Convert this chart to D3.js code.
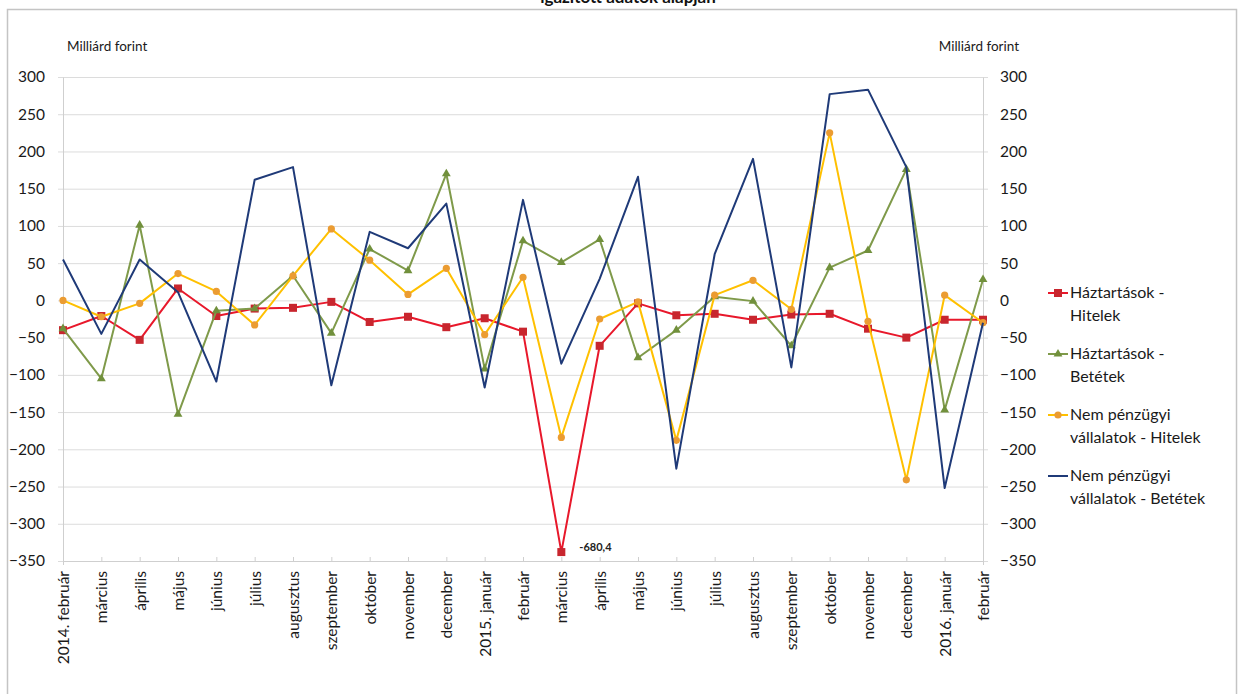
<!DOCTYPE html>
<html>
<head>
<meta charset="utf-8">
<script src="https://cdn.jsdelivr.net/npm/d3@7"></script>
<style>
  body { margin: 0; background: #fff; }
  svg { display: block; font-family: Lato, "Open Sans", sans-serif; }
</style>
</head>
<body>
<svg id="chart" width="1242" height="694"></svg>
<script>
// months on the x axis
var months = ["2014. február", "március", "április", "május", "június", "július", "augusztus",
  "szeptember", "október", "november", "december", "2015. január", "február", "március",
  "április", "május", "június", "július", "augusztus", "szeptember", "október", "november",
  "december", "2016. január", "február"];

// series values (milliárd forint)
var hhLoans = [-40, -21, -53, 16, -21, -11, -10, -2, -29, -22, -36, -24, -42, -338, -61, -4,
  -20, -18, -26, -19, -18, -38, -50, -26, -26];
var hhDeposits = [-38, -105, 101, -153, -14, -11, 33, -44, 69, 40, 170, -92, 80, 51, 82, -77,
  -40, 5, -1, -61, 44, 67, 176, -147, 28];
var nfcLoans = [0, -22, -4, 36, 12, -33, 33, 96, 54, 8, 43, -46, 31, -184, -25, -2,
  -188, 7, 27, -12, 225, -28, -241, 7, -30];
var nfcDeposits = [55, -45, 55, 11, -109, 162, 179, -114, 92, 70, 130, -117, 135, -85, 29, 166,
  -226, 62, 190, -90, 277, 283, 179, -252, -30];

var yTicks = [300, 250, 200, 150, 100, 50, 0, -50, -100, -150, -200, -250, -300, -350];
var seriesNames = [["Háztartások -", "Hitelek"], ["Háztartások -", "Betétek"],
  ["Nem pénzügyi", "vállalatok - Hitelek"], ["Nem pénzügyi", "vállalatok - Betétek"]];
var outlierLabel = "-680,4"; // the real March 2015 value, drawn clipped
var outlierIndex = 13;

var series = [
  {values: hhLoans, line: "#e8182b", marker: "#c8262e", shape: "square"},
  {values: hhDeposits, line: "#7f9a4a", marker: "#71903c", shape: "triangle"},
  {values: nfcLoans, line: "#ffc000", marker: "#eb9c32", shape: "circle"},
  {values: nfcDeposits, line: "#1f3a78", marker: null, shape: null}
];

var svg = d3.select("#chart");

// frame round the chart
svg.append("rect").attr("x", 7.5).attr("y", 9.5).attr("width", 1229).attr("height", 700)
  .attr("fill", "none").attr("stroke", "#c4c4c4").attr("stroke-width", 1.5);

// title, cut at the top like in the source
svg.append("text").attr("x", 628).attr("y", 3).attr("text-anchor", "middle")
  .attr("font-size", 17).attr("font-weight", "bold").attr("fill", "#111")
  .text("igazított adatok alapján");

var x = d3.scalePoint().domain(d3.range(months.length)).range([63, 983]);
var y = d3.scaleLinear().domain([-350, 300]).range([561, 77]);

// gridlines
svg.append("g").selectAll("line").data(yTicks).enter().append("line")
  .attr("x1", 58).attr("x2", 988)
  .attr("y1", function(d) { return y(d) + 0.5; }).attr("y2", function(d) { return y(d) + 0.5; })
  .attr("stroke", "#dcdcdc").attr("stroke-width", 1);

// left and right axes
var axisL = svg.append("g").attr("transform", "translate(63,0)")
  .call(d3.axisLeft(y).tickValues(yTicks).tickSize(0).tickPadding(18));
var axisR = svg.append("g").attr("transform", "translate(983,0)")
  .call(d3.axisRight(y).tickValues(yTicks).tickSize(0).tickPadding(17));
[axisL, axisR].forEach(function(a) {
  a.select(".domain").attr("stroke", "#cfcfcf");
  a.selectAll("text").attr("font-size", 15.5).attr("fill", "#1a1a1a").attr("font-family", "Lato, sans-serif");
});

// bottom axis with rotated month names
var axisB = svg.append("g").attr("transform", "translate(0,561)")
  .call(d3.axisBottom(x).tickSize(4).tickFormat(function(i) { return months[i]; }));
axisB.select(".domain").attr("stroke", "#cfcfcf");
axisB.selectAll(".tick line").attr("stroke", "#cfcfcf").attr("y1", -4).attr("y2", 0);
axisB.selectAll("text").attr("font-size", 15.5).attr("fill", "#1a1a1a").attr("font-family", "Lato, sans-serif")
  .attr("transform", "rotate(-90)").attr("text-anchor", "end")
  .attr("x", -10).attr("y", 0).attr("dy", "0.35em");

// axis captions
svg.append("text").attr("x", 67).attr("y", 51).attr("font-size", 13.5).attr("fill", "#1a1a1a")
  .text("Milliárd forint");
svg.append("text").attr("x", 1019).attr("y", 51).attr("font-size", 13.5).attr("fill", "#1a1a1a")
  .attr("text-anchor", "end").text("Milliárd forint");

var line = d3.line().x(function(d, i) { return x(i); }).y(function(d) { return y(d); });

function drawMarker(g, shape, color, cx, cy) {
  if (shape === "square") {
    g.append("rect").attr("x", cx - 4).attr("y", cy - 4).attr("width", 8).attr("height", 8)
      .attr("fill", color);
  } else if (shape === "triangle") {
    g.append("path").attr("transform", "translate(" + cx + "," + cy + ")")
      .attr("d", d3.symbol(d3.symbolTriangle, 34)()).attr("fill", color);
  } else if (shape === "circle") {
    g.append("circle").attr("cx", cx).attr("cy", cy).attr("r", 3.6).attr("fill", color);
  }
}

series.forEach(function(s) {
  var g = svg.append("g");
  g.append("path").datum(s.values).attr("d", line).attr("fill", "none")
    .attr("stroke", s.line).attr("stroke-width", 2).attr("stroke-linejoin", "round");
  if (s.shape) {
    s.values.forEach(function(v, i) { drawMarker(g, s.shape, s.marker, x(i), y(v)); });
  }
});

// label of the clipped point
svg.append("text").attr("x", x(outlierIndex) + 18).attr("y", y(hhLoans[outlierIndex]) - 1)
  .attr("font-size", 11).attr("font-weight", "bold").attr("fill", "#222")
  .text(outlierLabel);

// legend
var legend = svg.append("g");
series.forEach(function(s, k) {
  var ly = 293 + k * 61;
  legend.append("line").attr("x1", 1048).attr("x2", 1068).attr("y1", ly).attr("y2", ly)
    .attr("stroke", s.line).attr("stroke-width", 2);
  if (s.shape) drawMarker(legend, s.shape, s.marker, 1058, ly);
  seriesNames[k].forEach(function(t, j) {
    legend.append("text").attr("x", 1070).attr("y", ly + 5 + j * 23).attr("font-size", 16)
      .attr("fill", "#1a1a1a").text(t);
  });
});
</script>
</body>
</html>
